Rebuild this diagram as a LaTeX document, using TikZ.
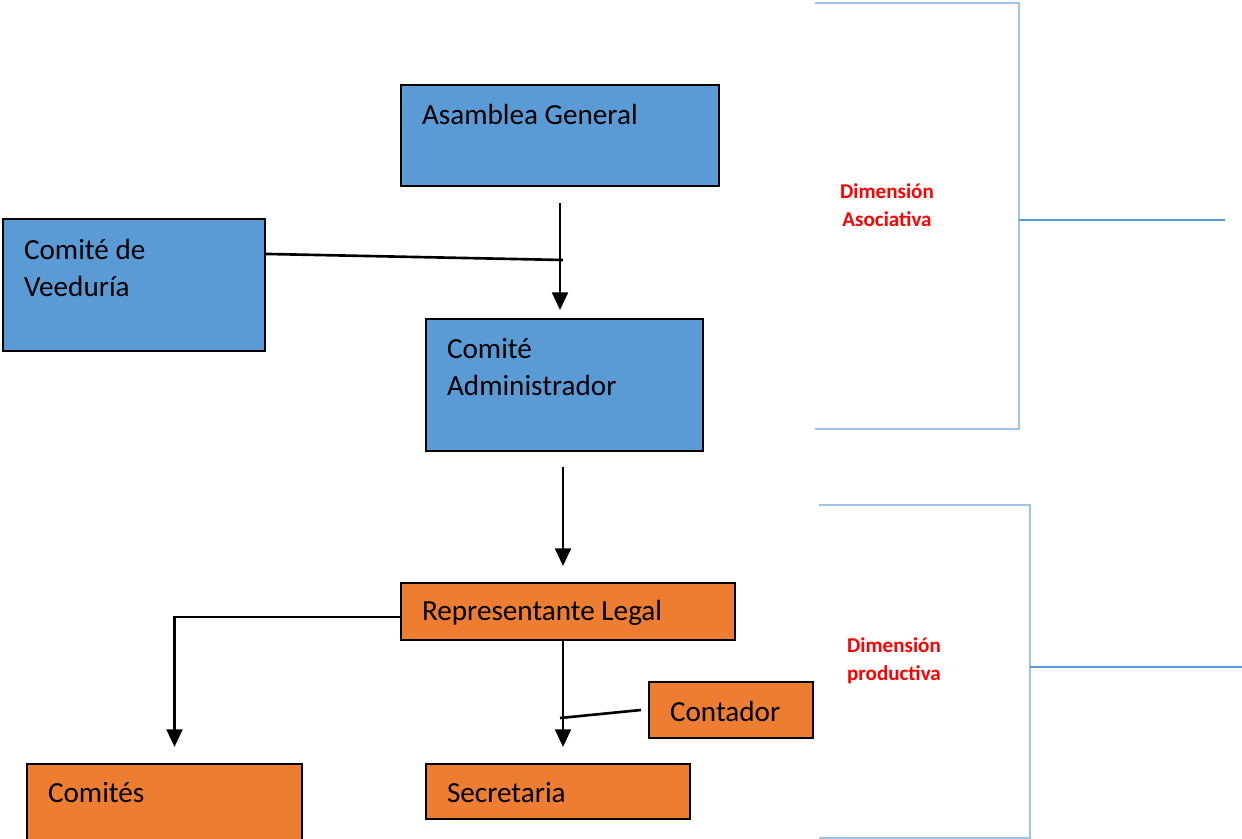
\documentclass[tikz,border=0pt]{standalone}
\usepackage{fontspec}
\setmainfont{Carlito}
\usetikzlibrary{arrows.meta,fit}
\definecolor{boxblue}{HTML}{5B9BD5}
\definecolor{boxorange}{HTML}{ED7D31}
\definecolor{framelight}{HTML}{9DC3E6}
\definecolor{dimred}{HTML}{FF0000}

\begin{document}
\begin{tikzpicture}[x=0.02cm,y=-0.02cm,line width=1.2pt]
        %
        % `bluebox' and `orangebox' are the organs, `boxtext' their names.
        % `bracket' is used for the two dimension frames on the right.
        \tikzstyle{bluebox} = [draw,fill=boxblue,inner sep=0pt]
        \tikzstyle{orangebox} = [draw,fill=boxorange,inner sep=0pt]
        \tikzstyle{boxtext} = [anchor=west,inner sep=0pt,align=left,font=\fontsize{16.6}{21.5}\selectfont]
        \tikzstyle{dimtext} = [text=dimred,align=center,font=\fontsize{12}{15.9}\selectfont\bfseries]
        \tikzstyle{bracket} = [draw=framelight,line width=1.2pt]
        \tikzstyle{arrow} = [line width=1.5pt,-{Triangle[length=10pt,width=9pt]}]
        \tikzstyle{joinline} = [line width=1.5pt]
        %
        \useasboundingbox (0,0) rectangle (1242,839);
        %
        % Dimension Asociativa
        \node[bluebox,fit={(401,85) (719,186)}] (asamblea) {};
        \node[boxtext] (asambleatxt) at (421,114) {Asamblea General};
        \node[bluebox,fit={(3,219) (265,351)}] (veeduria) {};
        \node[boxtext] (veeduriatxt) at (23,268) {Comité de\\Veeduría};
        \node[bluebox,fit={(426,319) (703,451)}] (administrador) {};
        \node[boxtext] (administradortxt) at (446,367) {Comité\\Administrador};
        %
        % Dimension productiva
        \node[orangebox,fit={(401,583) (735,640)}] (representante) {};
        \node[boxtext] (representantetxt) at (421,613) {Representante Legal};
        \node[orangebox,fit={(649,682) (813,738)}] (contador) {};
        \node[boxtext] (contadortxt) at (669,711) {Contador};
        \node[orangebox,fit={(27,764) (302,848)}] (comites) {};
        \node[boxtext] (comitestxt) at (47,793) {Comités};
        \node[orangebox,fit={(426,764) (690,819)}] (secretaria) {};
        \node[boxtext] (secretariatxt) at (446,793) {Secretaria};
        %
        % Arrows
        \coordinate (veeduriajoin) at (563,260);
        \coordinate (contadorjoin) at (560,718);
        \draw[arrow,shorten <=0.32cm,shorten >=0.16cm] (asamblea.south) -- (asamblea.south |- administrador.north);
        \draw[joinline] ([yshift=-0.72cm]veeduria.north east) -- (veeduriajoin);
        \draw[arrow,shorten <=0.3cm,shorten >=0.32cm] ([xshift=-0.03cm]administrador.south) -- ([xshift=-0.03cm]administrador.south |- representante.north);
        \draw[arrow,shorten >=0.32cm] ([yshift=-0.11cm]representante.west) -| ([xshift=0.2cm]comites.north);
        \draw[arrow,shorten >=0.32cm] ([xshift=-0.1cm]representante.south) -- ([xshift=-0.1cm]representante.south |- secretaria.north);
        \draw[joinline] ([xshift=-0.14cm]contador.west) -- (contadorjoin);
        %
        % Frames
        \draw[bracket] (815,3) -- (1019,3) -- (1019,429) -- (815,429);
        \draw[bracket,draw=boxblue] (1019,220) -- (1225,220);
        \node[dimtext] (asociativa) at (887,205) {Dimensión\\Asociativa};
        \draw[bracket] (819,505) -- (1030,505) -- (1030,838) -- (819,838);
        \draw[bracket,draw=boxblue] (1030,667) -- (1242,667);
        \node[dimtext] (productiva) at (894,661) {Dimensión\\productiva};
        %
\end{tikzpicture}
\end{document}
